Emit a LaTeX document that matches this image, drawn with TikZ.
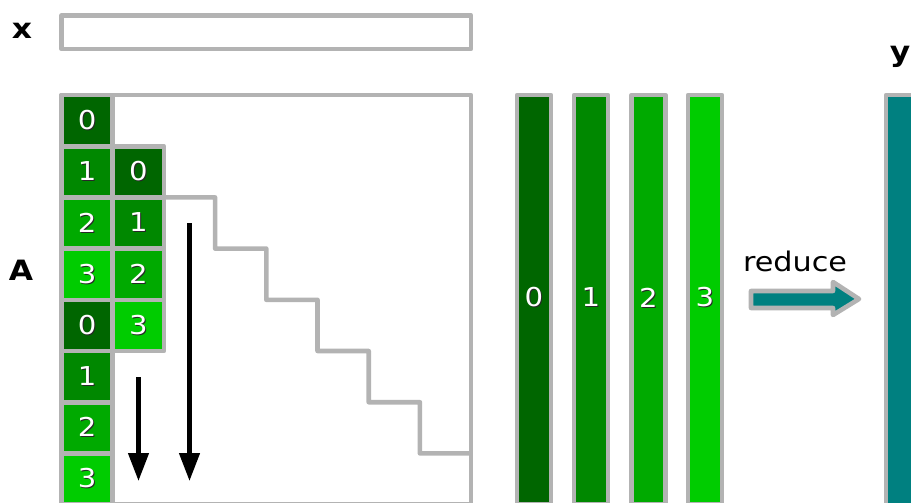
\documentclass[tikz,border=0pt]{standalone}
\usepackage{fontspec}
\setmainfont{DejaVu Sans}
\usetikzlibrary{arrows.meta}
\definecolor{gry}{RGB}{179,179,179}
\definecolor{gA}{RGB}{0,102,0}
\definecolor{gB}{RGB}{0,136,0}
\definecolor{gC}{RGB}{0,170,0}
\definecolor{gD}{RGB}{0,204,0}
\definecolor{tealc}{RGB}{0,128,128}
\definecolor{shadowc}{RGB}{40,40,40}
\newcommand\wide[1]{\scalebox{1.12}[1]{#1}}
\newcommand\shtxt[1]{\rlap{\hspace{1pt}\raisebox{-1pt}{\textcolor{shadowc}{\wide{#1}}}}\textcolor{white}{\wide{#1}}}
\tikzset{
  every node/.style={outer sep=0pt},
  digitfont/.style={font=\fontsize{26}{26}\selectfont},
  cellbox/.style={draw=gry, line width=4.6pt, line join=round, minimum size=51.2pt, inner sep=0pt, digitfont},
  barbox/.style={draw=gry, line width=4.6pt, line join=round, minimum width=34pt, minimum height=409.5pt, inner sep=0pt},
  outline/.style={draw=gry, line width=4.6pt, line join=round},
  biglabel/.style={font=\fontsize{28}{28}\selectfont\bfseries, inner sep=0pt},
  blackarrow/.style={line width=4.5pt, -{Triangle[length=28pt,width=20pt]}},
}
\begin{document}
\begin{tikzpicture}[x=1pt,y=-1pt]
\useasboundingbox (0,0) rectangle (911,503);
\clip (0,0) rectangle (911,503);
% labels
\node[biglabel] (lx) at (22,31) {\wide{x}};
\node[biglabel] (lA) at (21,270) {\wide{A}};
\node[biglabel] (ly) at (900,57) {\wide{y}};
% x vector
\node[outline, minimum width=409.5pt, minimum height=33.7pt, inner sep=0pt, anchor=north west] (xvec) at (61.5,15.3) {};
% A matrix
\node[outline, minimum width=409.5pt, minimum height=409.5pt, inner sep=0pt, anchor=north west] (Amat) at (61.5,95) {};
% column 1 cells
\foreach \k/\lab/\col in {0/0/gA,1/1/gB,2/2/gC,3/3/gD,4/0/gA,5/1/gB,6/2/gC,7/3/gD}{
  \node[cellbox, fill=\col] (a\k) at (87.1,{120.6+51.2*\k}) {\shtxt{\lab}};
}
% column 2 cells
\foreach \k/\lab/\col in {1/0/gA,2/1/gB,3/2/gC,4/3/gD}{
  \node[cellbox, fill=\col] (b\k) at (138.3,{120.6+51.2*\k}) {\shtxt{\lab}};
}
% staircase
\draw[outline] (b1.south east) -- ++(51.2,0) -- ++(0,51.2) -- ++(51.2,0) -- ++(0,51.2)
  -- ++(51.2,0) -- ++(0,51.2) -- ++(51.2,0) -- ++(0,51.2) -- ++(51.2,0) -- ++(0,51.2)
  -- (Amat.east |- 0,453.4);
% arrows
\coordinate (s1) at (138.5,377);
\coordinate (e1) at (138.5,481);
\coordinate (s2) at (189.5,223);
\coordinate (e2) at (189.5,481);
\draw[blackarrow] (s1) -- (e1);
\draw[blackarrow] (s2) -- (e2);
% partial result bars
\foreach \k/\xx/\col in {0/534/gA,1/591/gB,2/648.5/gC,3/705/gD}{
  \node[barbox, fill=\col, anchor=north] (p\k) at (\xx,95) {};
  \node[digitfont, inner sep=0pt] (pl\k) at (\xx,298) {\shtxt{\k}};
}
% y bar
\node[outline, fill=tealc, minimum width=80pt, minimum height=420pt, inner sep=0pt, anchor=north west] (yvec) at (886,95) {};
% reduce arrow
\node[font=\fontsize{27}{27}\selectfont, inner sep=0pt] (red) at (795,261) {\wide{reduce}};
\draw[outline, fill=tealc] (751,291) -- (833,291) -- (833,282) -- (859,299) -- (833,315) -- (833,308) -- (751,308) -- cycle;
\end{tikzpicture}
\end{document}
